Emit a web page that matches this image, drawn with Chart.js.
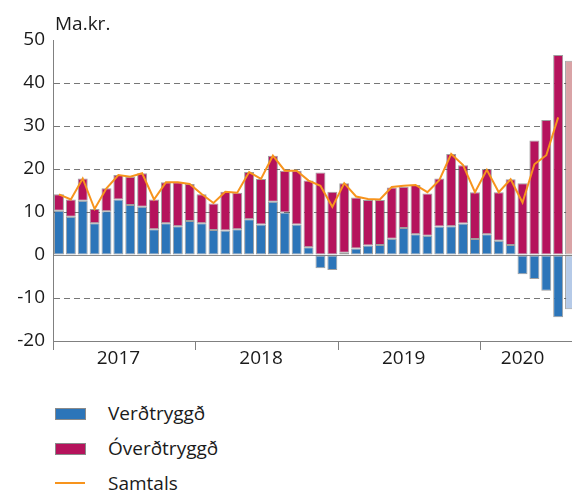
<!DOCTYPE html>
<html>
<head>
<meta charset="utf-8">
<script src="https://cdn.jsdelivr.net/npm/chart.js@4.4.1/dist/chart.umd.min.js"></script>
<style>
  body { margin: 0; background: #fff; overflow: hidden; font-family: 'Open Sans', sans-serif; color: #1a1a1a; }
  #wrap { position: relative; width: 576px; height: 376px; }
  #legend { position: absolute; left: 0; top: 396px; }
  .row { position: relative; height: 35px; width: 300px; }
  .box { position: absolute; left: 55px; top: 12px; width: 29px; height: 10px; border: 1px solid #8a8a8a; }
  .ln { position: absolute; left: 55px; top: 16px; width: 30px; height: 2px; }
  .txt { position: absolute; left: 108px; top: 4px; font-size: 19px; line-height: 26px; }
</style>
</head>
<body>
<div id="wrap"><canvas id="chart"></canvas></div>
<div id="legend"></div>
<script>
// Months jan 2017 - júl 2020, last bar is the light one
const months = [
  'jan 17','feb 17','mar 17','apr 17','maí 17','jún 17','júl 17','ágú 17','sep 17','okt 17','nóv 17','des 17',
  'jan 18','feb 18','mar 18','apr 18','maí 18','jún 18','júl 18','ágú 18','sep 18','okt 18','nóv 18','des 18',
  'jan 19','feb 19','mar 19','apr 19','maí 19','jún 19','júl 19','ágú 19','sep 19','okt 19','nóv 19','des 19',
  'jan 20','feb 20','mar 20','apr 20','maí 20','jún 20','júl 20','ágú 20'
];
const yearTicks = ['2017', '2018', '2019', '2020'];
const yearTickAt = [5, 17, 29, 39];
const yearStartAt = [0, 12, 24, 36];

// Ma.kr.
const verdtryggd = [
  10.3, 8.9, 12.6, 7.4, 10.2, 12.9, 11.6, 11.2, 6.0, 7.4, 6.7, 7.9,
  7.4, 5.8, 5.7, 6.0, 8.3, 7.1, 12.4, 9.9, 7.1, 1.8, -3.1, -3.5,
  0.5, 1.5, 2.2, 2.3, 3.8, 6.3, 4.8, 4.5, 6.6, 6.7, 7.3, 3.7,
  4.8, 3.3, 2.3, -4.5, -5.6, -8.3, -14.5, -12.6
];
const overdtryggd = [
  3.8, 4.0, 5.2, 3.3, 5.3, 5.7, 6.6, 7.8, 6.9, 9.5, 10.2, 8.6,
  6.7, 6.2, 9.0, 8.5, 11.0, 10.6, 10.7, 9.7, 12.5, 15.5, 19.2, 14.7,
  16.2, 11.9, 10.6, 10.5, 11.9, 9.6, 11.5, 9.8, 11.2, 16.8, 13.6, 10.9,
  15.2, 11.3, 15.3, 16.7, 26.6, 31.4, 46.5, 45.2
];
const samtals = [
  14.1, 12.9, 17.8, 10.7, 15.5, 18.6, 18.2, 19.0, 12.9, 16.9, 16.9, 16.5,
  14.2, 12.1, 14.7, 14.5, 19.3, 17.7, 23.1, 19.6, 19.6, 17.3, 16.1, 11.2,
  16.7, 13.6, 13.0, 12.9, 15.8, 16.1, 16.3, 14.6, 17.4, 23.5, 20.9, 14.6,
  19.8, 14.6, 17.6, 12.2, 21.1, 23.2, 32.0, null
];

const FONT = "'Open Sans', sans-serif";
const BLUE = '#2c75b9', BLUE_LIGHT = '#b5cae8';
const PINK = '#b5135c', PINK_LIGHT = '#d9a3a6';
const ORANGE = '#f7941d';
const lastIdx = months.length - 1;

// "Ma.kr." unit text above the y axis
const unitLabel = {
  id: 'unitLabel',
  afterDraw(chart) {
    const c = chart.ctx;
    c.save();
    c.font = '19px ' + FONT;
    c.fillStyle = '#1a1a1a';
    c.textBaseline = 'alphabetic';
    c.fillText('Ma.kr.', chart.chartArea.left + 2, 30);
    c.restore();
  }
};

const ctx = document.getElementById('chart').getContext('2d');
const chart = new Chart(ctx, {
  type: 'bar',
  data: {
    labels: months,
    datasets: [
      {
        label: 'Verðtryggð',
        data: verdtryggd,
        backgroundColor: c => c.dataIndex === lastIdx ? BLUE_LIGHT : BLUE,
        legendColor: BLUE,
        borderColor: 'rgba(80,80,80,0.55)',
        borderWidth: 1,
        borderSkipped: false,
        barPercentage: 0.84,
        categoryPercentage: 1,
        order: 1
      },
      {
        label: 'Óverðtryggð',
        data: overdtryggd,
        backgroundColor: c => c.dataIndex === lastIdx ? PINK_LIGHT : PINK,
        legendColor: PINK,
        borderColor: 'rgba(80,80,80,0.55)',
        borderWidth: 1,
        borderSkipped: false,
        barPercentage: 0.84,
        categoryPercentage: 1,
        order: 1
      },
      {
        type: 'line',
        label: 'Samtals',
        data: samtals,
        stack: 'total',
        borderColor: ORANGE,
        legendColor: ORANGE,
        borderWidth: 2,
        pointRadius: 0,
        tension: 0,
        order: 0
      }
    ]
  },
  options: {
    responsive: true,
    maintainAspectRatio: false,
    animation: false,
    layout: { padding: { top: 40, left: 0, right: 0, bottom: 0 } },
    plugins: {
      legend: { display: false },
      tooltip: { enabled: false }
    },
    scales: {
      x: {
        stacked: true,
        offset: true,
        grid: {
          offset: true,
          drawOnChartArea: false,
          tickLength: 9,
          tickColor: c => yearStartAt.includes(c.index) ? '#808080' : 'transparent'
        },
        border: { color: '#808080', width: 1 },
        ticks: {
          autoSkip: false,
          maxRotation: 0,
          minRotation: 0,
          padding: -3,
          color: '#1a1a1a',
          font: { family: FONT, size: 19 },
          callback: (v, i) => {
            const k = yearTickAt.indexOf(i);
            return k >= 0 ? yearTicks[k] : '';
          }
        },
        afterFit: s => { s.height = 35; }
      },
      y: {
        stacked: true,
        min: -20,
        max: 50,
        ticks: {
          stepSize: 10,
          padding: 8,
          color: '#1a1a1a',
          font: { family: FONT, size: 19 }
        },
        grid: {
          drawTicks: false,
          color: c => (c.tick.value === 50 || c.tick.value === -20) ? 'transparent'
            : (c.tick.value === 0 ? '#8c8c8c' : '#777777')
        },
        border: {
          color: '#808080',
          width: 1,
          dash: c => (c.tick && c.tick.value === 0) ? [] : [6, 4]
        },
        afterFit: s => { s.width = 53; }
      }
    }
  },
  plugins: [unitLabel]
});

// Legend as a vertical list
const legend = document.getElementById('legend');
chart.data.datasets.forEach(ds => {
  const row = document.createElement('div');
  row.className = 'row';
  const mark = document.createElement('div');
  if (ds.type === 'line') {
    mark.className = 'ln';
  } else {
    mark.className = 'box';
  }
  mark.style.background = ds.legendColor;
  const txt = document.createElement('div');
  txt.className = 'txt';
  txt.textContent = ds.label;
  row.appendChild(mark);
  row.appendChild(txt);
  legend.appendChild(row);
});
</script>
</body>
</html>
